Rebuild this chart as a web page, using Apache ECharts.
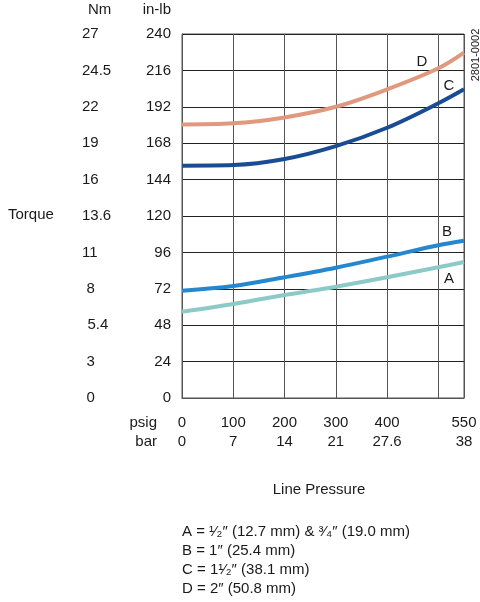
<!DOCTYPE html>
<html>
<head>
<meta charset="utf-8">
<script src="https://cdn.jsdelivr.net/npm/echarts@6/dist/echarts.min.js"></script>
<style>html,body{margin:0;padding:0;background:#fff}#c{width:480px;height:602px}</style>
</head>
<body>
<div id="c"></div>
<script>
// ---- data ----
const pressurePsig = [0, 100, 200, 300, 400, 500, 550];
const seriesA = [56.9, 62.0, 67.9, 73.4, 79.6, 86.2, 89.7];
const seriesB = [70.7, 73.8, 79.6, 85.9, 93.2, 100.7, 103.7];
const seriesC = [153.2, 153.6, 157.6, 166.1, 178.2, 194.3, 203.5];
const seriesD = [180.4, 181.1, 185.0, 192.0, 203.5, 217.4, 227.7];
const psigTicks = [0, 100, 200, 300, 400, 550];
const barTicks = ['0', '7', '14', '21', '27.6', '38'];
const inlbTicks = [0, 24, 48, 72, 96, 120, 144, 168, 192, 216, 240];
const nmTicks = ['0', '3', '5.4', '8', '11', '13.6', '16', '19', '22', '24.5', '27'];
const legendLines = [
  'A = \u00B9\u2044\u2082\u2033 (12.7 mm) & \u00B3\u2044\u2084\u2033 (19.0 mm)',
  'B = 1\u2033 (25.4 mm)',
  'C = 1\u00B9\u2044\u2082\u2033 (38.1 mm)',
  'D = 2\u2033 (50.8 mm)'
];

const FONT = 'Arial, "Liberation Sans", sans-serif';
const TXT = '#1a1a1a';
const chart = echarts.init(document.getElementById('c'), null, {renderer: 'canvas'});

function pairs(ys) { return pressurePsig.map((x, i) => [x, ys[i]]); }
function mkSeries(name, ys, color) {
  return {
    name: name, type: 'line', data: pairs(ys), smooth: 0.35, symbol: 'none',
    lineStyle: {color: color, width: 4}, z: 5
  };
}
const nmIndent = {'8': 'i', '3': 'i', '0': 'i', '5.4': 'j'};

function txt(x, y, s, opts) {
  return {
    type: 'text', x: x, y: y,
    style: Object.assign({text: s, fill: TXT, font: '15px ' + FONT, align: 'left', verticalAlign: 'middle'}, opts || {})
  };
}

const graphics = [
  txt(88, 10, 'Nm'),
  txt(171, 10, 'in-lb', {align: 'right'}),
  txt(8, 215, 'Torque'),
  txt(157, 423, 'psig', {align: 'right'}),
  txt(157, 442, 'bar', {align: 'right'}),
  txt(319, 490, 'Line Pressure', {align: 'center'}),
  txt(422, 62, 'D', {align: 'center'}),
  txt(449, 86, 'C', {align: 'center'}),
  txt(447, 232, 'B', {align: 'center'}),
  txt(449, 279, 'A', {align: 'center'}),
  {type: 'text', x: 476, y: 55, rotation: Math.PI / 2,
   style: {text: '2801-0002', fill: TXT, font: '11px ' + FONT, align: 'center', verticalAlign: 'middle'}}
];
legendLines.forEach((s, i) => graphics.push(txt(182, 532 + i * 18.8, s)));

chart.setOption({
  animation: false,
  backgroundColor: '#fff',
  grid: {left: 182, right: 16, top: 34, bottom: 204, show: true, borderColor: '#555', borderWidth: 1},
  xAxis: {
    type: 'value', min: 0, max: 550, interval: 100,
    axisLine: {show: true, lineStyle: {color: '#555', width: 1}},
    axisTick: {show: false},
    splitLine: {show: true, lineStyle: {color: '#555', width: 1}},
    axisLabel: {
      show: true, showMaxLabel: true, showMinLabel: true, margin: 15,
      fontSize: 15, fontFamily: FONT, color: TXT, lineHeight: 19.5,
      formatter: function (v) {
        const i = psigTicks.indexOf(v);
        return i < 0 ? '' : psigTicks[i] + '\n' + barTicks[i];
      }
    }
  },
  yAxis: [
    {
      type: 'value', min: 0, max: 240, interval: 24,
      axisLine: {show: true, lineStyle: {color: '#555', width: 1}},
      axisTick: {show: false},
      splitLine: {show: true, lineStyle: {color: '#222', width: 1}},
      axisLabel: {margin: 11, fontSize: 15, fontFamily: FONT, color: TXT,
        formatter: function (v) { const i = inlbTicks.indexOf(v); return i < 0 ? '' : String(inlbTicks[i]); }}
    },
    {
      type: 'value', min: 0, max: 240, interval: 24, position: 'left',
      axisLine: {show: false}, axisTick: {show: false}, splitLine: {show: false},
      axisLabel: {
        margin: 100, align: 'left', fontSize: 15, fontFamily: FONT, color: TXT,
        formatter: function (v) {
          const i = inlbTicks.indexOf(v);
          if (i < 0) return '';
          const s = nmTicks[i];
          return nmIndent[s] ? '{' + nmIndent[s] + '|' + s + '}' : s;
        },
        rich: {
          i: {padding: [0, 0, 0, 4.5], fontSize: 15, fontFamily: FONT, color: TXT},
          j: {padding: [0, 0, 0, 5.5], fontSize: 15, fontFamily: FONT, color: TXT}
        }
      }
    }
  ],
  series: [
    mkSeries('A', seriesA, '#8ccac7'),
    mkSeries('B', seriesB, '#2487cf'),
    mkSeries('C', seriesC, '#1a4c94'),
    mkSeries('D', seriesD, '#e0987f')
  ],
  graphic: graphics
});
</script>
</body>
</html>
